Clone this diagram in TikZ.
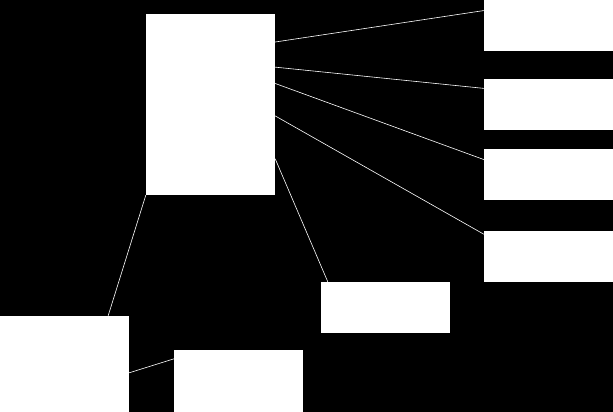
\documentclass[tikz,border=0pt]{standalone}
\usepackage{tikz}
\usetikzlibrary{positioning}
\begin{document}
\begin{tikzpicture}[x=1pt, y=-1pt,
    box/.style={fill=white, draw=none, inner sep=0pt, minimum width=129pt, minimum height=51pt},
    link/.style={draw=white, line width=0.6pt}]
            \clip (0,0) rectangle (613,412);
            \fill[black] (0,0) rectangle (613,412);

            \node[box, minimum height=181pt] (main) at (210.5,104.5) {};
            \node[box] (outA) at (548.5,25.5) {};
            \node[box] (outB) at (548.5,104.5) {};
            \node[box] (outC) at (548.5,174.5) {};
            \node[box] (outD) at (548.5,256.5) {};
            \node[box] (mid) at (385.5,307.5) {};
            \node[box, minimum height=100pt] (low) at (64.5,366) {};
            \node[box, minimum height=70pt] (lowR) at (238.5,385) {};

            \draw[link] (main.44.5) -- (outA.167.3);
            \draw[link] (main.30.2) -- (outB.166.5);
            \draw[link] (main.18.4) -- (outC.167.3);
            \draw[link] (main.-10.1) -- (outD.161.6);
            \draw[link] (main.-40.7) -- (mid.156.4);
            \draw[link] (main.south west) -- (low.49.6);
            \draw[link] (low.-6.2) -- (lowR.158.1);
        \end{tikzpicture}
\end{document}
